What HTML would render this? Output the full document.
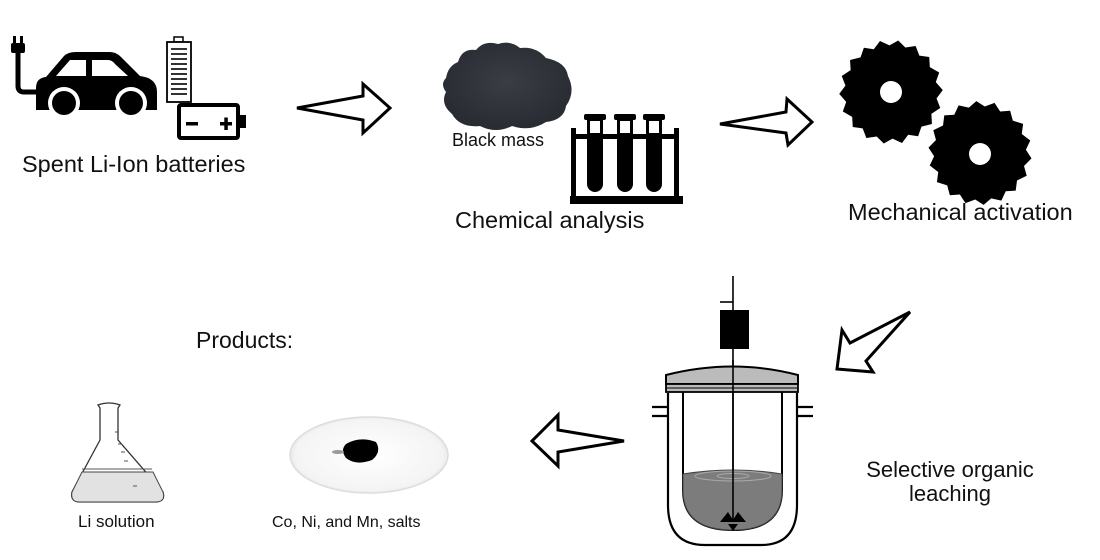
<!DOCTYPE html>
<html><head><meta charset="utf-8"><style>
html,body{margin:0;padding:0;background:#fff;}
svg{display:block;}
text{font-family:"Liberation Sans",Arial,sans-serif;fill:#111;}
</style></head><body>
<svg width="1100" height="560" viewBox="0 0 1100 560" xmlns="http://www.w3.org/2000/svg">
<defs>
<radialGradient id="bm" cx="50%" cy="45%" r="60%">
<stop offset="0" stop-color="#3a3d44"/><stop offset="1" stop-color="#272a30"/>
</radialGradient>
<radialGradient id="dish" cx="50%" cy="50%" r="55%">
<stop offset="0" stop-color="#fff"/><stop offset="0.85" stop-color="#f4f4f4"/><stop offset="1" stop-color="#d8d8d8"/>
</radialGradient>
</defs>
<rect x="13" y="36" width="3" height="8" fill="#000"/><rect x="20" y="36" width="3" height="8" fill="#000"/>
<rect x="11" y="43" width="14" height="10" rx="2" fill="#000"/>
<path d="M18 52 V86 Q18 92 24 92 H40" stroke="#000" stroke-width="5" fill="none"/>
<path d="M36 110 V88 Q36 78 46 77 L64 56 Q68 52 76 52 H110 Q116 52 121 57 L140 76 Q157 78 157 92 V110 Z" fill="#000"/>
<path d="M56 76 L70 60 H86 V76 Z M92 60 H108 Q112 60 115 64 L128 76 H92 Z" fill="#fff"/>
<circle cx="64" cy="103" r="16" fill="#fff"/><circle cx="64" cy="103" r="12" fill="#000"/>
<circle cx="131" cy="103" r="16" fill="#fff"/><circle cx="131" cy="103" r="12" fill="#000"/>
<rect x="174" y="37" width="9" height="5" fill="none" stroke="#000" stroke-width="1.5"/>
<rect x="167" y="42" width="24" height="60" fill="#fff" stroke="#000" stroke-width="1.8"/>
<g stroke="#000" stroke-width="1.6">
<line x1="171" y1="49" x2="187" y2="49"/><line x1="171" y1="54" x2="187" y2="54"/><line x1="171" y1="59" x2="187" y2="59"/><line x1="171" y1="64" x2="187" y2="64"/><line x1="171" y1="69" x2="187" y2="69"/><line x1="171" y1="74" x2="187" y2="74"/><line x1="171" y1="79" x2="187" y2="79"/><line x1="171" y1="84" x2="187" y2="84"/><line x1="171" y1="89" x2="187" y2="89"/><line x1="171" y1="94" x2="187" y2="94"/></g>
<rect x="179" y="105" width="59" height="33" rx="2" fill="none" stroke="#000" stroke-width="4"/>
<rect x="238" y="115" width="8" height="13" fill="#000"/>
<rect x="186" y="122" width="12" height="3.5" fill="#000"/>
<rect x="220" y="122" width="12" height="3.5" fill="#000"/><rect x="224.3" y="117.5" width="3.5" height="12.5" fill="#000"/>
<text x="22" y="172" font-size="23.5">Spent Li-Ion batteries</text>
<g fill="#fff" stroke="#000" stroke-width="3" stroke-linejoin="miter">
<path d="M297 108 L363 96 L363 84 L390 108 L363 133 L363 120 Z"/>
<path d="M720 124 L786 112 L787 99 L812 122 L788 145 L786 133 Z"/>
<path d="M910 312 L850 343 L842 330 L837 369 L873 372 L866 361 Z"/>
<path d="M624 441 L558 430 L558 415 L532 441 L558 466 L558 452 Z"/>
</g>
<path d="M446 78 Q448 66 458 62 Q462 48 476 50 Q484 40 498 44 Q510 40 520 48 Q536 46 546 58 Q566 62 568 76 Q576 92 566 106 Q564 120 546 122 Q530 132 512 126 Q496 134 480 126 Q460 128 452 114 Q440 104 446 92 Q440 84 446 78 Z" fill="url(#bm)"/>
<text x="452" y="146" font-size="18">Black mass</text>
<g fill="#000">
<rect x="571" y="128" width="5" height="70"/><rect x="674" y="128" width="5" height="70"/>
<rect x="570" y="196" width="113" height="8"/>
<rect x="576" y="134" width="98" height="5"/>
<rect x="584" y="114" width="22" height="6" rx="2"/><rect x="614" y="114" width="22" height="6" rx="2"/><rect x="643" y="114" width="22" height="6" rx="2"/>
<path d="M587 120 H603 V184 A8 8 0 0 1 587 184 Z"/>
<path d="M617 120 H633 V184 A8 8 0 0 1 617 184 Z"/>
<path d="M646 120 H662 V184 A8 8 0 0 1 646 184 Z"/>
</g>
<g fill="#fff"><rect x="590" y="121" width="10" height="12"/><rect x="620" y="121" width="10" height="12"/><rect x="649" y="121" width="10" height="12"/></g>
<text x="455" y="228" font-size="23.5">Chemical analysis</text>
<g fill="#000">
<path d="M0 -52 L8 -46 L18 -49 L23 -40 L33 -40 L35 -30 L45 -26 L43 -16 L51 -9 L46 0 L51 9 L43 16 L45 26 L35 30 L33 40 L23 40 L18 49 L8 46 L0 52 L-8 46 L-18 49 L-23 40 L-33 40 L-35 30 L-45 26 L-43 16 L-51 9 L-46 0 L-51 -9 L-43 -16 L-45 -26 L-35 -30 L-33 -40 L-23 -40 L-18 -49 L-8 -46 Z" transform="translate(891,92) rotate(8)"/>
<path d="M0 -52 L8 -46 L18 -49 L23 -40 L33 -40 L35 -30 L45 -26 L43 -16 L51 -9 L46 0 L51 9 L43 16 L45 26 L35 30 L33 40 L23 40 L18 49 L8 46 L0 52 L-8 46 L-18 49 L-23 40 L-33 40 L-35 30 L-45 26 L-43 16 L-51 9 L-46 0 L-51 -9 L-43 -16 L-45 -26 L-35 -30 L-33 -40 L-23 -40 L-18 -49 L-8 -46 Z" transform="translate(980,153) rotate(-4)"/>
</g>
<circle cx="891" cy="92" r="11" fill="#fff"/><circle cx="980" cy="154" r="11" fill="#fff"/>
<text x="848" y="220" font-size="23.5">Mechanical activation</text>
<g stroke="#000" fill="none">
<line x1="733" y1="276" x2="733" y2="522" stroke-width="1.6"/>
<line x1="720" y1="302" x2="733" y2="302" stroke-width="1.6"/>
<path d="M668 393 V505 Q668 545 705 545 H761 Q797 545 797 505 V393" stroke-width="2.2"/>
<path d="M652 407 H668 M652 416 H668 M797 407 H813 M797 416 H813" stroke-width="2.2"/>
<path d="M683 392 V490 Q683 530 733 530 Q782 530 782 490 V392" stroke-width="2"/>
</g>
<path d="M683 474 Q733 466 782 474 V490 Q782 530 733 530 Q683 530 683 490 Z" fill="#7c7c7c" stroke="#444" stroke-width="1"/>
<ellipse cx="733" cy="476" rx="38" ry="5" fill="none" stroke="#aaa" stroke-width="1"/>
<ellipse cx="733" cy="476" rx="16" ry="2.5" fill="none" stroke="#aaa" stroke-width="1"/>
<path d="M666 384 V375 Q733 358 798 375 V384 Z" fill="#bbb" stroke="#000" stroke-width="2"/>
<rect x="666" y="384" width="132" height="8" fill="#bbb" stroke="#000" stroke-width="1.8"/>
<line x1="666" y1="388" x2="798" y2="388" stroke="#000" stroke-width="1"/>
<line x1="733" y1="360" x2="733" y2="522" stroke="#000" stroke-width="1.6"/>
<rect x="720" y="310" width="29" height="39" fill="#000"/>
<path d="M720 522 L728 512 L733 520 L738 512 L746 522 Z M728 524 H738 L733 531 Z" fill="#000"/>
<text x="950" y="477" font-size="22" text-anchor="middle">Selective organic</text>
<text x="950" y="501" font-size="22" text-anchor="middle">leaching</text>
<text x="196" y="348" font-size="23">Products:</text>
<path d="M98 405 Q109 401 120 405 L118 408 V440 L163 492 Q166 502 155 502 H80 Q70 502 72 492 L100 440 V408 Z" fill="#fff" stroke="#333" stroke-width="1.3"/>
<path d="M82 472 H153 L163 492 Q166 502 155 502 H80 Q70 502 72 492 Z" fill="#e2e2e2" stroke="#444" stroke-width="1"/>
<line x1="82" y1="469" x2="152" y2="469" stroke="#555" stroke-width="1"/>
<g stroke="#555" stroke-width="1"><line x1="115" y1="432" x2="119" y2="432"/><line x1="118" y1="444" x2="122" y2="444"/><line x1="121" y1="452" x2="125" y2="452"/><line x1="124" y1="461" x2="128" y2="461"/><line x1="133" y1="486" x2="137" y2="486"/></g>
<text x="78" y="527" font-size="17">Li solution</text>
<ellipse cx="369" cy="455" rx="79" ry="38" fill="url(#dish)" stroke="#ddd" stroke-width="1.5"/>
<path d="M346 444 Q360 436 376 442 Q382 452 372 460 Q356 466 346 458 Q340 450 346 444 Z" fill="#000"/>
<ellipse cx="338" cy="452" rx="6" ry="2" fill="#999"/>
<text x="272" y="527" font-size="16">Co, Ni, and Mn, salts</text>
</svg>
</body></html>
